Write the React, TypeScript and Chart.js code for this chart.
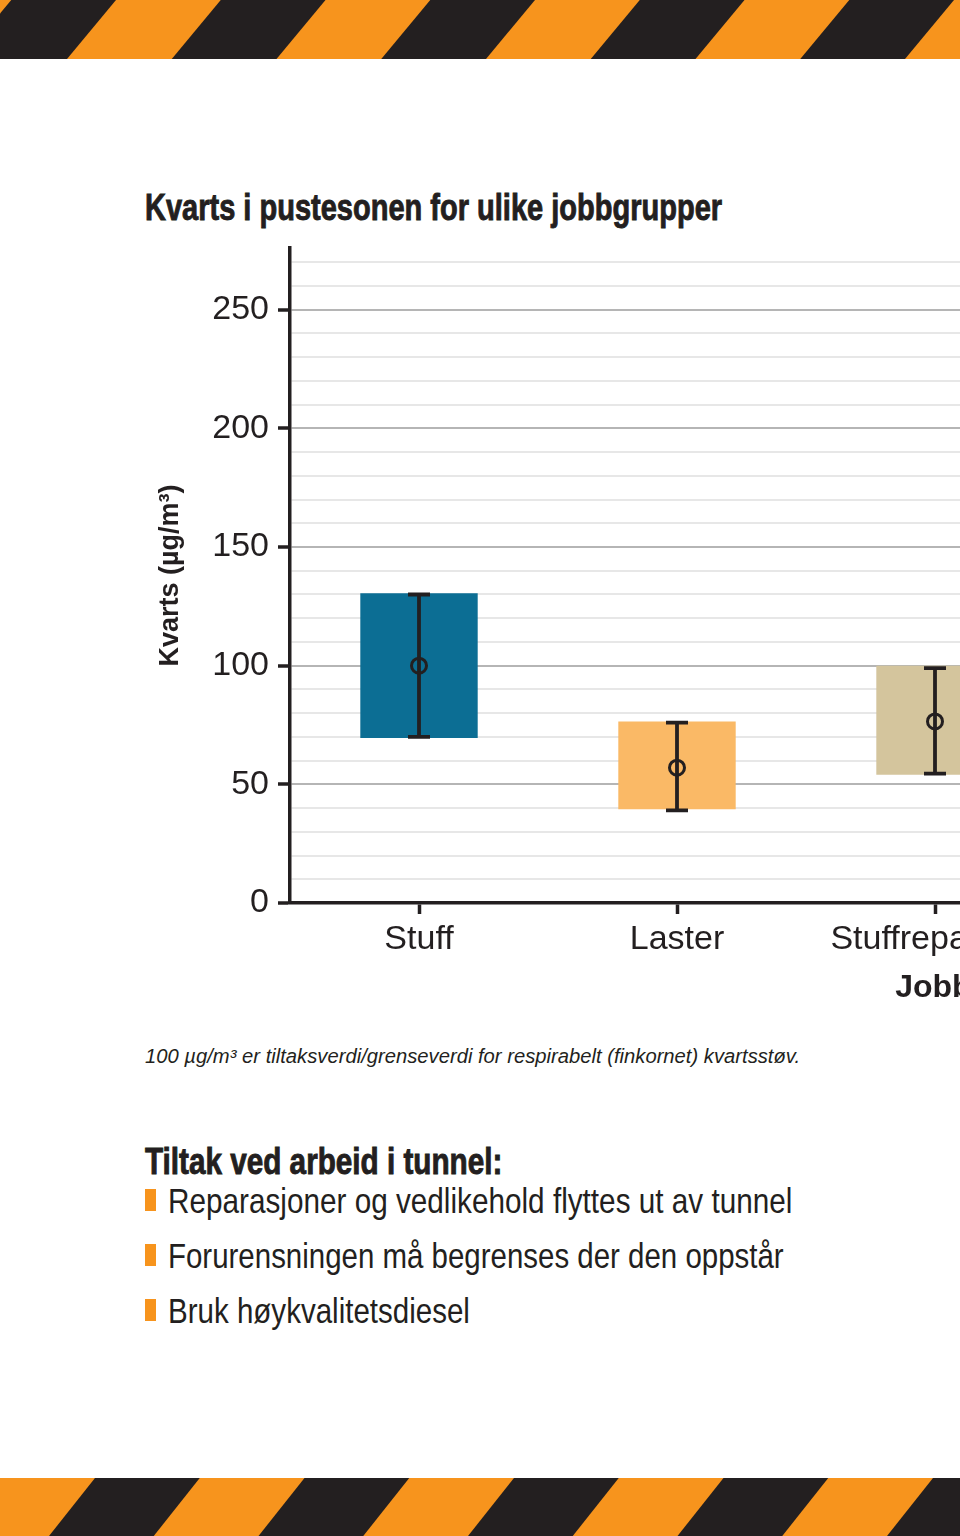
import React, { useEffect, useLayoutEffect, useRef } from 'react';
import { Chart, registerables } from 'chart.js';

Chart.register(...registerables);

// ---- data ----
const categories = ['Stuff', 'Laster', 'Stuffreparatør'];
const boxLow = [69.5, 39.5, 54];
const boxHigh = [130.5, 76.5, 100];
const ciLow = [70, 39, 54.5];
const ciHigh = [130, 76, 99];
const means = [100, 57, 76.5];
const barColors = ['#0c6e94', '#fab966', '#d4c59d'];
const yMajorTicks = [0, 50, 100, 150, 200, 250];

const titleText = 'Kvarts i pustesonen for ulike jobbgrupper';
const yTitle = 'Kvarts (µg/m³)';
const xTitle = 'Jobbgruppe';
const footnote = '100 µg/m³ er tiltaksverdi/grenseverdi for respirabelt (finkornet) kvartsstøv.';
const tiltakHeading = 'Tiltak ved arbeid i tunnel:';
const bullets = [
  'Reparasjoner og vedlikehold flyttes ut av tunnel',
  'Forurensningen må begrenses der den oppstår',
  'Bruk høykvalitetsdiesel',
];
const bulletWidths = [624, 616, 302];

const INK = '#231f20';
const ORANGE = '#f7941d';
const FONT = "'Liberation Sans', Arial, Helvetica, sans-serif";

const errorBarPlugin = {
  id: 'errorBars',
  afterDraw(chart: any) {
    const { ctx } = chart;
    const x = chart.scales.x;
    const y = chart.scales.y;
    ctx.save();
    ctx.strokeStyle = INK;
    categories.forEach((_, i) => {
      const px = x.getPixelForValue(i);
      const top = y.getPixelForValue(ciHigh[i]);
      const bot = y.getPixelForValue(ciLow[i]);
      ctx.lineWidth = 3.8;
      ctx.beginPath();
      ctx.moveTo(px, top);
      ctx.lineTo(px, bot);
      ctx.moveTo(px - 11, top);
      ctx.lineTo(px + 11, top);
      ctx.moveTo(px - 11, bot);
      ctx.lineTo(px + 11, bot);
      ctx.stroke();
      const my = y.getPixelForValue(means[i]);
      ctx.lineWidth = 3;
      ctx.beginPath();
      ctx.arc(px, my, 7.5, 0, Math.PI * 2);
      ctx.stroke();
    });
    ctx.restore();
  },
};

function Stripes({ top, height, starts, shift, bg }: { top: number; height: number; starts: number[]; shift: number; bg: string }) {
  const band = 104.75;
  return (
    <svg width={960} height={height} style={{ position: 'absolute', left: 0, top, display: 'block' }}>
      <rect x={0} y={0} width={960} height={height} fill={bg} />
      {starts.map((s, i) => (
        <polygon
          key={i}
          fill={INK}
          points={`${s},${height} ${s + band},${height} ${s + band + shift},0 ${s + shift},0`}
        />
      ))}
    </svg>
  );
}

function FitText({
  text, left, baseline, size, width, bold, italic,
}: { text: string; left: number; baseline: number; size: number; width: number; bold?: boolean; italic?: boolean }) {
  const ref = useRef<HTMLDivElement>(null);
  useLayoutEffect(() => {
    const el = ref.current;
    if (!el) return;
    el.style.transform = 'none';
    const w = el.offsetWidth;
    if (w > 0) el.style.transform = `scaleX(${width / w})`;
  }, [text, width]);
  return (
    <div
      ref={ref}
      style={{
        position: 'absolute',
        left,
        top: baseline - 0.847 * size,
        whiteSpace: 'nowrap',
        lineHeight: 1,
        fontSize: size,
        fontFamily: FONT,
        fontWeight: bold ? 'bold' : 'normal',
        fontStyle: italic ? 'italic' : 'normal',
        color: INK,
        display: 'inline-block',
        transformOrigin: '0 0',
        WebkitTextStroke: bold ? `0.9px ${INK}` : undefined,
      }}
    >
      {text}
    </div>
  );
}

export default function App() {
  const ref = useRef<HTMLCanvasElement>(null);

  useEffect(() => {
    const chart = new Chart(ref.current as HTMLCanvasElement, {
      type: 'bar',
      data: {
        datasets: [
          {
            type: 'bar',
            data: categories.map((_, i) => ({ x: i, y: [boxLow[i], boxHigh[i]] })) as any,
            backgroundColor: barColors,
            borderWidth: 0,
            barPercentage: 0.455,
            categoryPercentage: 1,
          } as any,
        ],
      },
      options: {
        animation: false,
        responsive: false,
        devicePixelRatio: 1,
        layout: { padding: { top: 48, left: 150, right: 120, bottom: 7 } },
        plugins: { legend: { display: false }, tooltip: { enabled: false } },
        scales: {
          x: {
            type: 'linear',
            min: -0.5,
            max: 2.562,
            offset: false,
            afterFit: (s: any) => { s.height = 120; },
            ticks: {
              stepSize: 1,
              includeBounds: false,
              autoSkip: false,
              maxRotation: 0,
              padding: 5,
              color: INK,
              font: { family: FONT, size: 34 },
              callback: (v: any) => (Number.isInteger(v) && categories[v] !== undefined ? categories[v] : ''),
            },
            grid: { drawOnChartArea: false, offset: false, tickLength: 11, tickWidth: 3.5, tickColor: INK },
            border: { display: true, color: INK, width: 3.5 },
            title: {
              display: true,
              text: xTitle,
              align: 'end',
              color: INK,
              font: { family: FONT, size: 32, weight: 'bold' },
              padding: { top: 0, bottom: 16 },
            },
          } as any,
          y: {
            min: 0,
            max: 276,
            z: 1,
            afterFit: (s: any) => { s.width = 140; },
            ticks: {
              stepSize: 10,
              includeBounds: false,
              autoSkip: false,
              padding: 9,
              color: INK,
              font: { family: FONT, size: 34 },
              callback: (v: any) => (yMajorTicks.includes(v) ? String(v) : ''),
            },
            grid: {
              lineWidth: 2,
              color: (c: any) =>
                c.tick && c.tick.value === 0
                  ? 'rgba(0,0,0,0)'
                  : c.tick && yMajorTicks.includes(c.tick.value)
                  ? 'rgba(90,90,90,0.45)'
                  : 'rgba(120,120,120,0.18)',
              tickLength: 12,
              tickWidth: 3.5,
              tickColor: (c: any) => (c.tick && yMajorTicks.includes(c.tick.value) ? INK : 'rgba(0,0,0,0)'),
            },
            border: { display: true, color: INK, width: 3.5 },
            title: {
              display: true,
              text: yTitle,
              color: INK,
              font: { family: FONT, size: 27, weight: 'bold' },
              padding: { top: 4, bottom: 0 },
            },
          } as any,
        },
      } as any,
      plugins: [errorBarPlugin],
    });
    return () => chart.destroy();
  }, []);

  const topStarts: number[] = [];
  const bottomStarts: number[] = [];
  for (let k = -2; k < 7; k++) {
    topStarts.push(67 - 104.75 + 209.5 * k);
    bottomStarts.push(95 - 46 + 209.5 * k);
  }

  return (
    <div style={{ position: 'absolute', left: 0, top: 0, width: 960, height: 1536, overflow: 'hidden', background: '#fff' }}>
      <Stripes top={0} height={59} starts={topStarts} shift={49} bg={ORANGE} />
      <FitText text={titleText} left={145} baseline={220} size={36} width={577} bold />
      <canvas
        ref={ref}
        width={1200}
        height={830}
        style={{ position: 'absolute', left: 0, top: 200, width: 1200, height: 830 }}
      />
      <FitText text={footnote} left={145} baseline={1063} size={20} width={655} italic />
      <FitText text={tiltakHeading} left={145} baseline={1174} size={36} width={357} bold />
      {bullets.map((b, i) => (
        <React.Fragment key={i}>
          <div style={{ position: 'absolute', left: 145, top: 1189 + 55 * i, width: 11, height: 22, background: ORANGE }} />
          <FitText text={b} left={168} baseline={1213 + 55 * i} size={35} width={bulletWidths[i]} />
        </React.Fragment>
      ))}
      <Stripes top={1478} height={58} starts={bottomStarts} shift={46} bg={ORANGE} />
    </div>
  );
}
